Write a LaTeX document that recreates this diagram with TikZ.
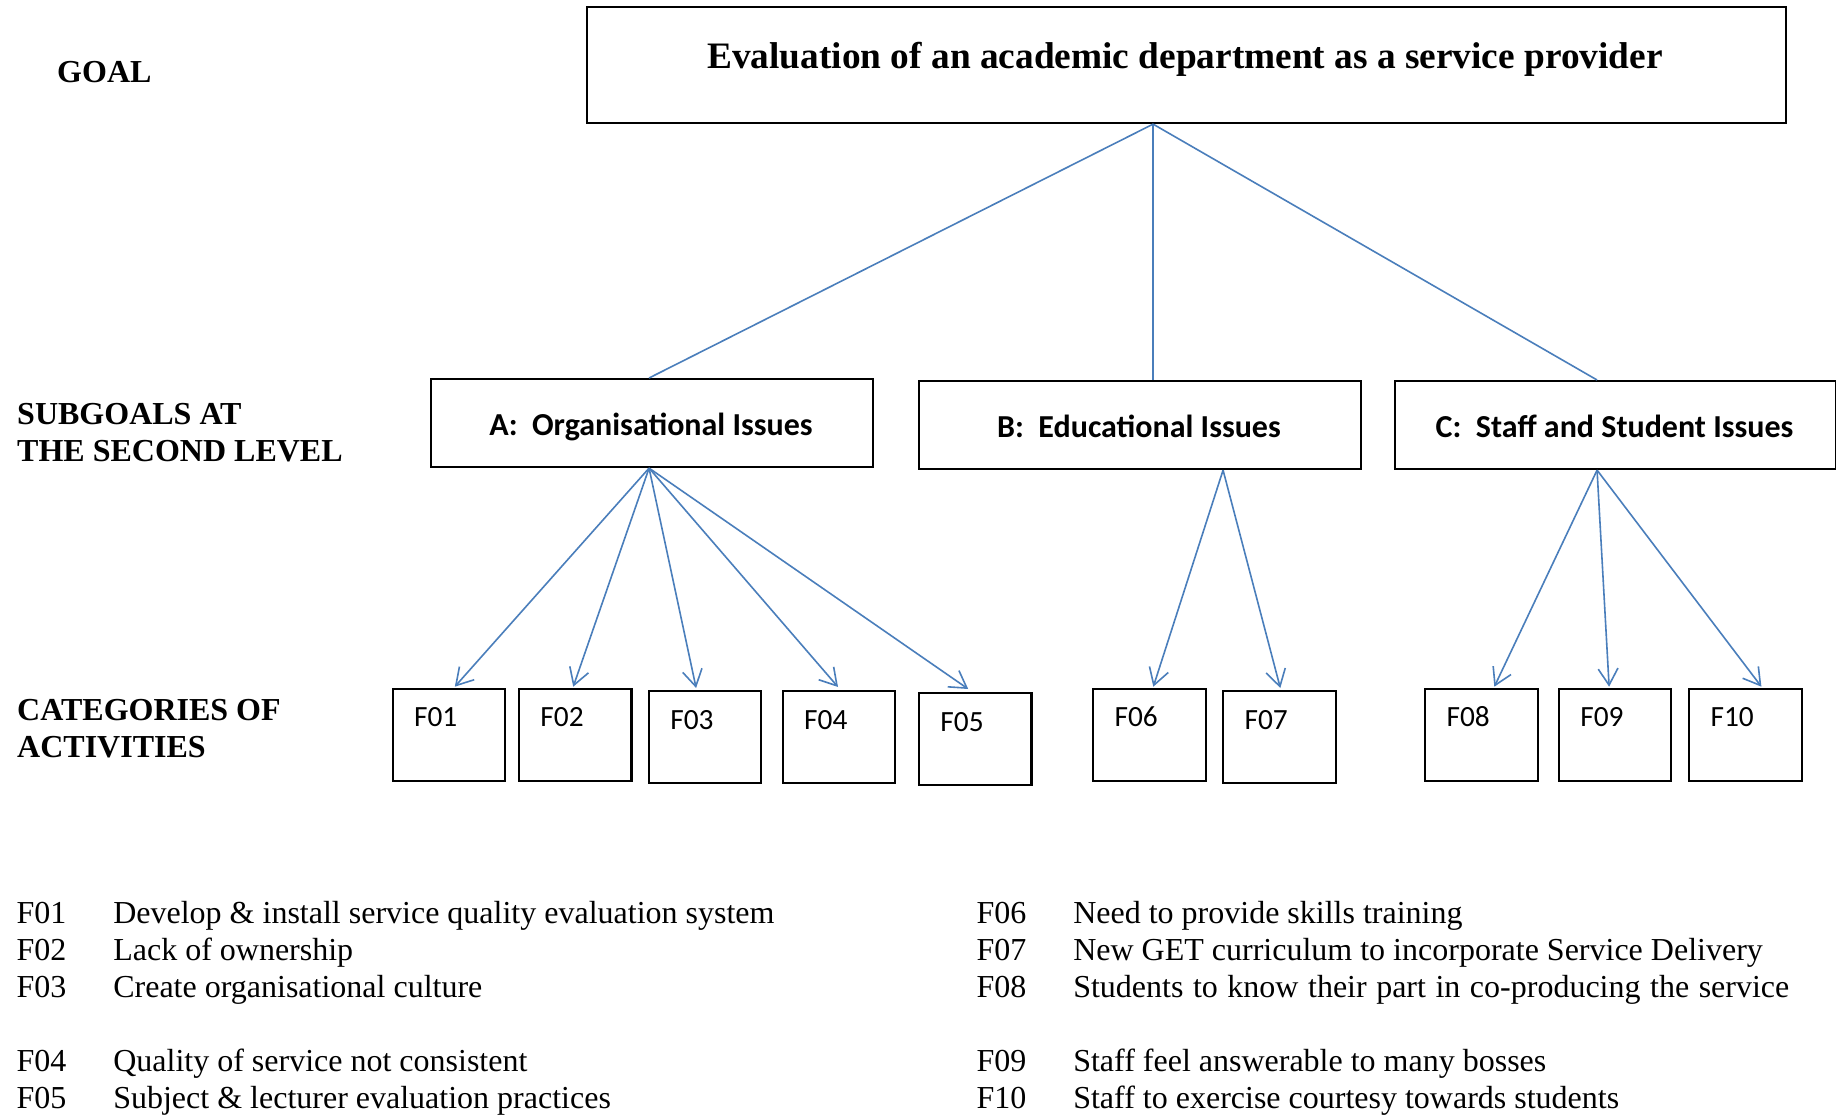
\documentclass[tikz,border=0pt]{standalone}
\usepackage{fontspec}
\setmainfont{Liberation Serif}
\newfontfamily\carlito{Carlito}
\usetikzlibrary{arrows.meta}
\definecolor{linkblue}{RGB}{74,126,187}
% one drawing unit (1/1836 of the page width)
\newcommand\pxl{0.375pt}

\tikzset{
  box/.style={draw=black, line width=0.8pt, inner sep=0pt, anchor=north west},
  goalbox/.style={box, minimum width=1199*\pxl, minimum height=116*\pxl},
  subbox/.style={box, minimum width=442*\pxl, minimum height=88*\pxl},
  catbox/.style={box, minimum width=112.5*\pxl, minimum height=92.3*\pxl},
  headtext/.style={font=\fontsize{14}{16}\selectfont\bfseries, inner sep=0pt, anchor=base},
  sidetext/.style={font=\fontsize{12}{13.9}\selectfont\bfseries, inner sep=0pt, anchor=base west},
  subtext/.style={font=\carlito\fontsize{12}{14}\selectfont\bfseries, inner sep=0pt, anchor=base},
  cattext/.style={font=\carlito\fontsize{11}{13}\selectfont, inner sep=0pt, anchor=base west},
  legendtext/.style={font=\fontsize{12}{13.88}\selectfont, inner sep=0pt, anchor=base west},
  link/.style={draw=linkblue, line width=0.6pt},
  arrowlink/.style={link, -{Straight Barb[length=6.2pt,width=7.4pt]}},
}

\begin{document}
\begin{tikzpicture}[x=0.375pt, y=-0.375pt]
  \path[fill=white, use as bounding box] (0,0) rectangle (1836,1120);

  % level labels
  \node[sidetext] (lblgoal) at (56.7,82.3) {GOAL};
  \node[sidetext] (lblsub) at (16.7,424)
    {\begin{tabular}[t]{@{}l@{}}SUBGOALS AT\\THE SECOND LEVEL\end{tabular}};
  \node[sidetext] (lblcat) at (16.7,720)
    {\begin{tabular}[t]{@{}l@{}}CATEGORIES OF\\ACTIVITIES\end{tabular}};

  % goal
  \node[goalbox] (goal) at (585.5,6) {};
  \node[headtext] (goaltxt) at (1185,68.3)
    {Evaluation of an academic department as a service provider};

  % subgoals
  \node[subbox] (A) at (430,378) {};
  \node[subbox] (B) at (918,380) {};
  \node[subbox, minimum width=441*\pxl] (C) at (1393.5,380) {};
  \node[subtext] (Atxt) at (651,435) {A:\ \ Organisational Issues};
  \node[subtext] (Btxt) at (1139,437) {B:\ \ Educational Issues};
  \node[subtext] (Ctxt) at (1614.5,437) {C:\ \ Staff and Student Issues};

  % categories of activities
  \foreach \name/\x/\y in {F01/391.5/687.7, F02/517.9/687.7, F03/647.8/690,
      F04/781.7/690, F05/917.9/692, F06/1092/687.7, F07/1222/690,
      F08/1424/687.7, F09/1557.8/687.7, F10/1688.1/687.7}{
    \node[catbox] (\name) at (\x,\y) {};
    \node[cattext] (\name txt) at ([shift={(22,39)}]\name.north west) {\name};
  }

  % goal to subgoals
  \draw[link] ([shift={(-33,0)}]goal.south) -- ([shift={(-3,0)}]A.north);
  \draw[link] ([shift={(-33,0)}]goal.south) -- ([shift={(13,0)}]B.north);
  \draw[link] ([shift={(-33,0)}]goal.south) -- ([shift={(-18,0)}]C.north);

  % subgoals to categories
  \draw[arrowlink] ([shift={(-3,0)}]A.south) -- ([shift={(6,-1)}]F01.north);
  \draw[arrowlink] ([shift={(-3,0)}]A.south) -- ([shift={(-2,-1)}]F02.north);
  \draw[arrowlink] ([shift={(-3,0)}]A.south) -- ([shift={(-9,-2)}]F03.north);
  \draw[arrowlink] ([shift={(-3,0)}]A.south) -- ([shift={(-1,-3)}]F04.north);
  \draw[arrowlink] ([shift={(-3,0)}]A.south) -- ([shift={(-7,-3)}]F05.north);
  \draw[arrowlink] ([shift={(83,0)}]B.south) -- ([shift={(4,-1)}]F06.north);
  \draw[arrowlink] ([shift={(83,0)}]B.south) -- ([shift={(1,-2)}]F07.north);
  \draw[arrowlink] ([shift={(-18,0)}]C.south) -- ([shift={(13,-1)}]F08.north);
  \draw[arrowlink] ([shift={(-18,0)}]C.south) -- ([shift={(-6,-1)}]F09.north);
  \draw[arrowlink] ([shift={(-18,0)}]C.south) -- ([shift={(16,-1)}]F10.north);

  % legend
  \node[legendtext] (legendL) at (16,923.8) {\begin{tabular}[t]{@{}p{36.3pt}@{}l@{}}
    F01 & Develop \& install service quality evaluation system\\
    F02 & Lack of ownership\\
    F03 & Create organisational culture\\
    & \\
    F04 & Quality of service not consistent\\
    F05 & Subject \& lecturer evaluation practices
  \end{tabular}};
  \node[legendtext] (legendR) at (976,923.8) {\begin{tabular}[t]{@{}p{36.3pt}@{}l@{}}
    F06 & Need to provide skills training\\
    F07 & New GET curriculum to incorporate Service Delivery\\
    F08 & {\spaceskip=1.19\fontdimen2\font\relax Students to know their part in co-producing the service}\\
    & \\
    F09 & Staff feel answerable to many bosses\\
    F10 & Staff to exercise courtesy towards students
  \end{tabular}};
\end{tikzpicture}
\end{document}
